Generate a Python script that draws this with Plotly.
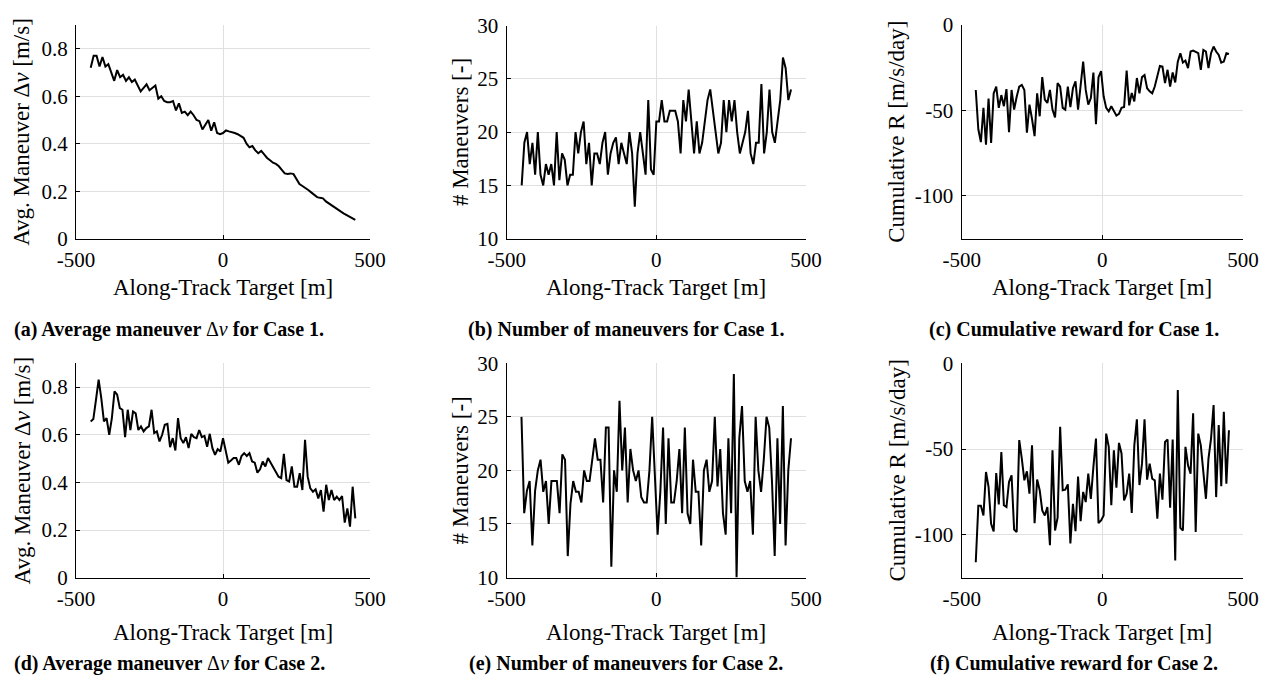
import numpy as np
import plotly.graph_objects as go

W, H = 1263, 676

# ---------------- data ----------------
a_vals = [0.72, 0.77, 0.77, 0.725, 0.765, 0.725, 0.735, 0.695, 0.665, 0.71,
          0.68, 0.69, 0.665, 0.68, 0.66, 0.67, 0.645, 0.62, 0.635, 0.65,
          0.625, 0.635, 0.645, 0.59, 0.60, 0.58, 0.575, 0.575, 0.58, 0.54,
          0.57, 0.53, 0.535, 0.52, 0.535, 0.52, 0.50, 0.495, 0.46, 0.48,
          0.50, 0.455, 0.49, 0.445, 0.44, 0.445, 0.456, 0.452, 0.45, 0.445,
          0.44, 0.432, 0.425, 0.40, 0.385, 0.39, 0.372, 0.36, 0.37, 0.355,
          0.34, 0.33, 0.32, 0.315, 0.305, 0.29, 0.275, 0.273, 0.275, 0.272,
          0.25, 0.23, 0.222, 0.215, 0.205, 0.195, 0.183, 0.175, 0.172, 0.17,
          0.157, 0.148, 0.14, 0.132, 0.123, 0.115, 0.107, 0.10, 0.092, 0.086,
          0.079]

b_vals = [15, 19, 20, 17, 19, 16, 20, 16, 15, 17,
          16, 17, 15, 20, 15.5, 18, 17.4, 15, 16, 16,
          20, 18, 20, 21, 17, 19, 15, 18, 18, 17,
          19, 20, 16, 18, 19, 19.5, 17, 19, 18, 17,
          20, 18, 13, 18, 20, 18, 16, 23, 16.5, 16,
          21, 21, 23, 21, 21, 22, 22, 22, 21, 18,
          23, 21, 24, 21, 18, 21, 18, 19, 21, 23,
          24, 22, 20, 18, 19, 23, 20, 23, 21, 23,
          20, 18, 19, 20, 22, 18, 17, 19, 19, 24.5,
          18, 20, 24, 20, 19, 21, 23, 27, 26, 23, 24]

c_vals = [-38, -61, -68.5, -48.5, -70, -43, -69, -40, -36, -48.5,
          -41, -47.5, -37.5, -62.7, -38, -49.5, -42, -36, -35, -38,
          -63, -46.6, -55, -65, -40, -53.4, -30.5, -43.7, -45.6, -38,
          -49.5, -54, -34, -36, -48.5, -49.5, -36, -48, -37, -33,
          -49.5, -37, -21.4, -38, -46.6, -42.7, -27.8, -58, -30.5, -27,
          -41.7, -48.5, -50.5, -47.5, -50.5, -53, -52, -48.5, -48, -26.6,
          -47, -39.8, -44.7, -31, -40, -30.5, -29.3, -37, -38.8, -40,
          -36, -30, -23.9, -24.3, -34, -26.2, -36, -27.8, -33.6, -21.4,
          -16.5, -22, -20.8, -25.2, -15.5, -15, -16, -16.5, -26.2, -14.6,
          -15.5, -25.2, -16.5, -12.6, -15.5, -17.5, -22, -21.4, -16.5, -17]

d_vals = [0.656, 0.666, 0.747, 0.831, 0.754, 0.656, 0.67, 0.6, 0.67, 0.782,
          0.768, 0.712, 0.705, 0.59, 0.705, 0.62, 0.698, 0.69, 0.62, 0.635,
          0.614, 0.628, 0.635, 0.705, 0.607, 0.614, 0.572, 0.6, 0.642, 0.646,
          0.548, 0.586, 0.534, 0.67, 0.586, 0.565, 0.59, 0.544, 0.604, 0.59,
          0.586, 0.62, 0.59, 0.595, 0.55, 0.604, 0.544, 0.516, 0.54, 0.53,
          0.586, 0.534, 0.483, 0.492, 0.502, 0.502, 0.474, 0.511, 0.523, 0.511,
          0.523, 0.488, 0.483, 0.441, 0.455, 0.488, 0.467, 0.502, 0.481, 0.464,
          0.441, 0.424, 0.418, 0.52, 0.41, 0.404, 0.467, 0.382, 0.382, 0.439,
          0.368, 0.579, 0.424, 0.375, 0.361, 0.371, 0.333, 0.368, 0.277, 0.39,
          0.326, 0.368, 0.326, 0.34, 0.326, 0.343, 0.231, 0.291, 0.214, 0.382,
          0.249]

e_vals = [25, 16, 18.1, 19, 13, 18.1, 20, 21, 18, 19,
          15, 19, 19, 19, 16, 21.5, 21, 12, 16.9, 19,
          18, 18, 17, 20, 19, 19, 21, 23, 21, 21,
          17, 24, 24, 11, 20, 18, 26.5, 20, 24, 17,
          22, 20, 19, 20, 17.5, 17, 17, 20, 25, 20,
          14, 18, 24, 15, 23, 17, 17, 19, 22, 16,
          24, 16, 15, 21, 18, 18, 13, 20, 21, 18,
          19, 25, 18.5, 22, 16, 14, 23, 16, 29, 10,
          23, 26, 19, 18, 19, 14, 25, 20, 18, 21,
          25, 24, 19, 12, 23, 15, 26, 13, 20, 23]

f_vals = [-116, -83, -83, -88.7, -63.4, -72, -93.6, -98, -64, -82.3,
          -51.7, -82.8, -83.8, -69.2, -65.3, -97, -98.4, -44.8, -55.6, -68.2,
          -63, -76, -47.8, -93.2, -67.8, -74, -85.8, -88.7, -83.8, -106,
          -50.7, -97.5, -90, -37, -74, -73.7, -70.6, -105, -81.9, -97.9,
          -66, -92, -75, -80.9, -64.3, -79, -60.4, -43.9, -93.2, -91.6,
          -88.7, -41, -48.7, -82.8, -50.7, -72.5, -46.4, -52.6, -80, -76,
          -64.3, -87.3, -47.8, -32.7, -71, -58.5, -32.7, -67.8, -58.5, -67.3,
          -68.2, -90.6, -64.3, -79.5, -45.8, -44.4, -84.2, -44.4, -115, -15.6,
          -95.9, -97.5, -48.7, -59.5, -64.3, -29.2, -98.4, -41, -47.8, -62.4,
          -79, -55.6, -43.9, -24.4, -78, -36, -71.7, -28.3, -70.2, -39]

x_start, x_end = -450, 450
x_ticks = [-500, 0, 500]
x_ticktext = ["-500", "0", "500"]

dv_ticks = [0, 0.2, 0.4, 0.6, 0.8]
dv_ticktext = ["0", "0.2", "0.4", "0.6", "0.8"]
n_ticks = [10, 15, 20, 25, 30]
n_ticktext = ["10", "15", "20", "25", "30"]
r_ticks = [-100, -50, 0]
r_ticktext = ["-100", "-50", "0"]

x_title = "Along-Track Target [m]"
y_titles = ["Avg. Maneuver Δ<i>v</i> [m/s]", "# Maneuvers [-]", "Cumulative R [m/s/day]"]
captions = [
    "<b>(a) Average maneuver </b>Δ<i>v</i><b> for Case 1.</b>",
    "<b>(b) Number of maneuvers for Case 1.</b>",
    "<b>(c) Cumulative reward for Case 1.</b>",
    "<b>(d) Average maneuver </b>Δ<i>v</i><b> for Case 2.</b>",
    "<b>(e) Number of maneuvers for Case 2.</b>",
    "<b>(f) Cumulative reward for Case 2.</b>",
]

# ---------------- layout helpers ----------------
panels = [
    (a_vals, [0, 0.9], dv_ticks, dv_ticktext, y_titles[0], (76, 370, 25, 238.7), 22),
    (b_vals, [10, 30], n_ticks, n_ticktext, y_titles[1], (506.7, 806, 25.5, 238.7), 460),
    (c_vals, [-125, 0], r_ticks, r_ticktext, y_titles[2], (961.7, 1243, 25, 238.7), 897),
    (d_vals, [0, 0.9], dv_ticks, dv_ticktext, y_titles[0], (76, 370, 363.3, 577.7), 22),
    (e_vals, [10, 30], n_ticks, n_ticktext, y_titles[1], (506.5, 806, 363.3, 577.5), 460),
    (f_vals, [-125, 0], r_ticks, r_ticktext, y_titles[2], (961.7, 1243, 363.3, 577.7), 897),
]
caption_x = [169, 626, 1074, 169, 626, 1074]
caption_y = [330, 330, 330, 663, 663, 663]
xtitle_y = [288, 288, 288, 632, 632, 632]

FONT = "Liberation Serif, Times New Roman, serif"
TICK_SIZE = 21
TITLE_SIZE = 23
CAP_SIZE = 20

def px(xp):
    return xp / W

def py(yp):
    return 1 - yp / H

fig = go.Figure()
layout = dict(
    width=W, height=H,
    margin=dict(l=0, r=0, t=0, b=0, pad=0, autoexpand=False),
    paper_bgcolor="white", plot_bgcolor="white",
    showlegend=False,
    font=dict(family=FONT, color="black", size=TICK_SIZE),
)
annotations = []

for i, (vals, yr, yt, ytt, ytitle, box, ytx) in enumerate(panels):
    k = "" if i == 0 else str(i + 1)
    l, r, t, b = box
    xs = np.linspace(x_start, x_end, len(vals))
    fig.add_trace(go.Scatter(x=xs, y=vals, mode="lines",
                             line=dict(color="black", width=2),
                             xaxis="x" + k, yaxis="y" + k, hoverinfo="skip"))
    common = dict(showline=True, linecolor="black", linewidth=1.3,
                  showgrid=True, gridcolor="#e0e0e0", gridwidth=1,
                  zeroline=False, ticks="inside", ticklen=4, tickwidth=1,
                  tickcolor="black", tickfont=dict(family=FONT, size=TICK_SIZE, color="black"),
                  fixedrange=True, automargin=False)
    layout["xaxis" + k] = dict(common, domain=[px(l), px(r)], range=[-500, 500],
                               tickvals=x_ticks, ticktext=x_ticktext,
                               anchor="y" + k, ticklabelstandoff=2)
    layout["yaxis" + k] = dict(common, domain=[py(b), py(t)], range=yr,
                               tickvals=yt, ticktext=ytt,
                               anchor="x" + k, ticklabelstandoff=3)
    annotations.append(dict(x=px((l + r) / 2), y=py(xtitle_y[i]), xref="paper", yref="paper",
                            text=x_title, showarrow=False, xanchor="center", yanchor="middle",
                            font=dict(family=FONT, size=TITLE_SIZE, color="black")))
    annotations.append(dict(x=px(ytx), y=py((t + b) / 2), xref="paper", yref="paper",
                            text=ytitle, showarrow=False, textangle=-90,
                            xanchor="center", yanchor="middle",
                            font=dict(family=FONT, size=TITLE_SIZE, color="black")))
    annotations.append(dict(x=px(caption_x[i]), y=py(caption_y[i]), xref="paper", yref="paper",
                            text=captions[i], showarrow=False, xanchor="center", yanchor="middle",
                            font=dict(family=FONT, size=CAP_SIZE, color="black")))

layout["annotations"] = annotations
fig.update_layout(**layout)
fig.write_html("out.html")
